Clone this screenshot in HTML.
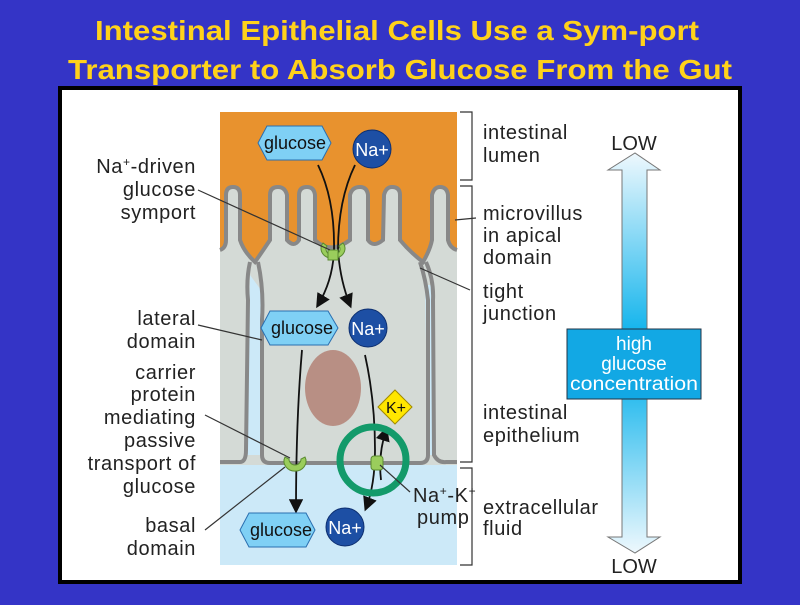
<!DOCTYPE html>
<html><head><style>
body{margin:0;background:#3535c8;width:800px;height:600px;overflow:hidden;font-family:"Liberation Sans",sans-serif}
</style></head><body>
<svg width="800" height="600" xmlns="http://www.w3.org/2000/svg" font-family="Liberation Sans, sans-serif">
<rect width="800" height="600" fill="#3434c6"/>
<text x="397" y="40" text-anchor="middle" font-size="28" font-weight="bold" fill="#ffd21a" textLength="604" lengthAdjust="spacingAndGlyphs">Intestinal Epithelial Cells Use a Sym-port</text>
<text x="400" y="79" text-anchor="middle" font-size="28" font-weight="bold" fill="#ffd21a" textLength="664" lengthAdjust="spacingAndGlyphs">Transporter to Absorb Glucose From the Gut</text>
<rect x="60" y="88" width="680" height="494" fill="#fff" stroke="#000" stroke-width="4"/>
<defs>
<linearGradient id="g1" x1="0" y1="0" x2="0" y2="1">
<stop offset="0" stop-color="#eef8fd"/><stop offset="0.45" stop-color="#12b4ec"/><stop offset="0.55" stop-color="#12b4ec"/><stop offset="1" stop-color="#eef8fd"/></linearGradient>
<marker id="ar" markerWidth="8" markerHeight="8" refX="6" refY="4" orient="auto"><path d="M0,0 L8,4 L0,8 z" fill="#111"/></marker>
</defs>
<!-- diagram -->
<rect x="220" y="112" width="237" height="160" fill="#e8922e"/>
<rect x="220" y="465" width="237" height="100" fill="#cce9f8"/>
<path id="ap" d="M220,250 Q226,248 226,240 L226,195 Q226,187 233,187 Q240,187 240,195 L240,240 Q244,252 255,262 Q262,252 270,240 L270,195 Q270,187 278,187 Q285,187 287,195 L287,240 Q294,248 299,240 L299,195 Q299,187 307,187 Q314,187 315,195 L315,240 Q330,255 350,240 L350,195 Q352,187 360,187 Q367,187 368,195 L368,240 Q373,248 383,240 L384,195 Q386,187 392,187 Q400,187 400,195 L400,240 Q410,252 423,262 Q430,250 432,240 L432,195 Q434,187 440,187 Q447,187 448,195 L448,240 Q450,248 457,250" fill="none"/>
<path d="M220,250 Q226,248 226,240 L226,195 Q226,187 233,187 Q240,187 240,195 L240,240 Q244,252 255,262 Q262,252 270,240 L270,195 Q270,187 278,187 Q285,187 287,195 L287,240 Q294,248 299,240 L299,195 Q299,187 307,187 Q314,187 315,195 L315,240 Q330,255 350,240 L350,195 Q352,187 360,187 Q367,187 368,195 L368,240 Q373,248 383,240 L384,195 Q386,187 392,187 Q400,187 400,195 L400,240 Q410,252 423,262 Q430,250 432,240 L432,195 Q434,187 440,187 Q447,187 448,195 L448,240 Q450,248 457,250 L457,465 L220,465 z" fill="#d4dad6"/>
<!-- lateral spaces -->
<path d="M250,275 L247,455 L260,455 L261,290 z" fill="#cce9f8"/>
<path d="M425,285 L428,455 L434,455 L433,285 z" fill="#cce9f8"/>
<path d="M220,250 Q226,248 226,240 L226,195 Q226,187 233,187 Q240,187 240,195 L240,240 Q244,252 255,262 Q262,252 270,240 L270,195 Q270,187 278,187 Q285,187 287,195 L287,240 Q294,248 299,240 L299,195 Q299,187 307,187 Q314,187 315,195 L315,240 Q330,255 350,240 L350,195 Q352,187 360,187 Q367,187 368,195 L368,240 Q373,248 383,240 L384,195 Q386,187 392,187 Q400,187 400,195 L400,240 Q410,252 423,262 Q430,250 432,240 L432,195 Q434,187 440,187 Q447,187 448,195 L448,240 Q450,248 457,250" fill="none" stroke="#888" stroke-width="4"/>
<path d="M250,262 Q246,280 248,300 L246,450 Q246,462 240,462 L220,462" fill="none" stroke="#888" stroke-width="4"/>
<path d="M258,262 Q264,290 262,320 L262,455 Q262,463 270,463 L420,463 Q428,463 428,455 L428,300 Q426,280 420,262" fill="none" stroke="#888" stroke-width="4"/>
<path d="M426,262 Q434,280 433,300 L434,455 Q438,463 446,462 L457,462" fill="none" stroke="#888" stroke-width="4"/>
<!-- nucleus -->
<ellipse cx="333" cy="388" rx="28" ry="38" fill="#b88f84"/>
<!-- arrows -->
<path d="M318,165 Q335,200 334,250 Q333,280 318,305" fill="none" stroke="#111" stroke-width="1.8" marker-end="url(#ar)"/>
<path d="M355,165 Q338,200 338,250 Q340,280 350,305" fill="none" stroke="#111" stroke-width="1.8" marker-end="url(#ar)"/>
<path d="M302,350 Q296,420 296,510" fill="none" stroke="#111" stroke-width="1.8" marker-end="url(#ar)"/>
<path d="M365,355 Q375,400 375,450 Q375,485 366,508" fill="none" stroke="#111" stroke-width="1.8" marker-end="url(#ar)"/>
<path d="M381,480 Q378,455 386,430" fill="none" stroke="#111" stroke-width="1.8" marker-end="url(#ar)"/>
<!-- transporters -->
<path d="M323,243 a12,10 0 1 0 20,0 l-4,3 a7,6 0 1 1 -12,0 z" fill="#9acd5c" stroke="#5a8a30"/>
<rect x="328" y="250" width="10" height="10" fill="#9acd5c" stroke="#5a8a30"/>
<path d="M285,457 a11,10 0 1 0 20,0 l-4,2 a6,6 0 1 1 -12,0 z" fill="#9acd5c" stroke="#5a8a30"/>
<rect x="371" y="456" width="12" height="14" rx="3" fill="#9acd5c" stroke="#5a8a30"/>
<circle cx="373" cy="460" r="33" fill="none" stroke="#139a6a" stroke-width="7"/>
<!-- molecules -->
<g font-size="18" text-anchor="middle">
<polygon points="258,143 267,126 322,126 331,143 322,160 267,160" fill="#7fd0f5" stroke="#2a6fb0"/>
<text x="295" y="149" fill="#111">glucose</text>
<circle cx="372" cy="149" r="19" fill="#1d4fa4" stroke="#0d2f70"/>
<text x="372" y="156" fill="#fff">Na+</text>
<polygon points="261,328 270,311 328,311 338,328 328,345 270,345" fill="#7fd0f5" stroke="#2a6fb0"/>
<text x="302" y="334" fill="#111">glucose</text>
<circle cx="368" cy="328" r="19" fill="#1d4fa4" stroke="#0d2f70"/>
<text x="368" y="335" fill="#fff">Na+</text>
<polygon points="240,530 249,513 306,513 315,530 306,547 249,547" fill="#7fd0f5" stroke="#2a6fb0"/>
<text x="281" y="536" fill="#111">glucose</text>
<circle cx="345" cy="527" r="19" fill="#1d4fa4" stroke="#0d2f70"/>
<text x="345" y="534" fill="#fff">Na+</text>
<polygon points="395,390 412,407 395,424 378,407" fill="#ffe600" stroke="#a08a00"/>
<text x="396" y="413" fill="#111" font-size="16">K+</text>
</g>
<!-- label lines -->
<g stroke="#333" stroke-width="1.2" fill="none">
<path d="M198,190 L330,250"/><path d="M198,325 L262,340"/><path d="M205,415 L290,458"/><path d="M205,530 L285,467"/>
<path d="M380,465 L410,492"/><path d="M476,218 L455,220"/><path d="M470,290 L420,268"/>
<path d="M460,112 L472,112 L472,180 L460,180"/><path d="M460,186 L472,186 L472,462 L460,462"/><path d="M460,468 L472,468 L472,565 L460,565"/>
</g>
<g font-size="20" fill="#222" text-anchor="end" letter-spacing="0.6">
<text x="196" y="173">Na<tspan font-size="12" dy="-7">+</tspan><tspan dy="7">-driven</tspan></text>
<text x="196" y="196">glucose</text><text x="196" y="219">symport</text>
<text x="196" y="325">lateral</text><text x="196" y="348">domain</text>
<text x="196" y="379">carrier</text><text x="196" y="401">protein</text><text x="196" y="424">mediating</text>
<text x="196" y="447">passive</text><text x="196" y="470">transport of</text><text x="196" y="493">glucose</text>
<text x="196" y="532">basal</text><text x="196" y="555">domain</text>
</g>
<g font-size="20" fill="#222" letter-spacing="0.6">
<text x="483" y="139">intestinal</text><text x="483" y="162">lumen</text>
<text x="483" y="220">microvillus</text><text x="483" y="242">in apical</text><text x="483" y="264">domain</text>
<text x="483" y="298">tight</text><text x="483" y="320">junction</text>
<text x="483" y="419">intestinal</text><text x="483" y="442">epithelium</text>
<text x="483" y="514">extracellular</text><text x="483" y="535">fluid</text>
<text x="413" y="502">Na<tspan font-size="12" dy="-7">+</tspan><tspan dy="7">-K</tspan><tspan font-size="12" dy="-7">+</tspan></text><text x="417" y="524">pump</text>
</g>
<!-- gradient arrow -->
<path d="M622,170 L608,170 L635,153 L660,170 L647,170 L647,537 L660,537 L635,553 L608,537 L622,537 z" fill="url(#g1)" stroke="#777"/>
<rect x="567" y="329" width="134" height="70" fill="#12a8e4" stroke="#234"/>
<g font-size="19" fill="#fff" text-anchor="middle">
<text x="634" y="350">high</text><text x="634" y="370">glucose</text><text x="634" y="390" textLength="128" lengthAdjust="spacingAndGlyphs">concentration</text>
</g>
<g font-size="20" fill="#222" text-anchor="middle"><text x="634" y="150">LOW</text><text x="634" y="573">LOW</text></g>
</svg>
</body></html>
